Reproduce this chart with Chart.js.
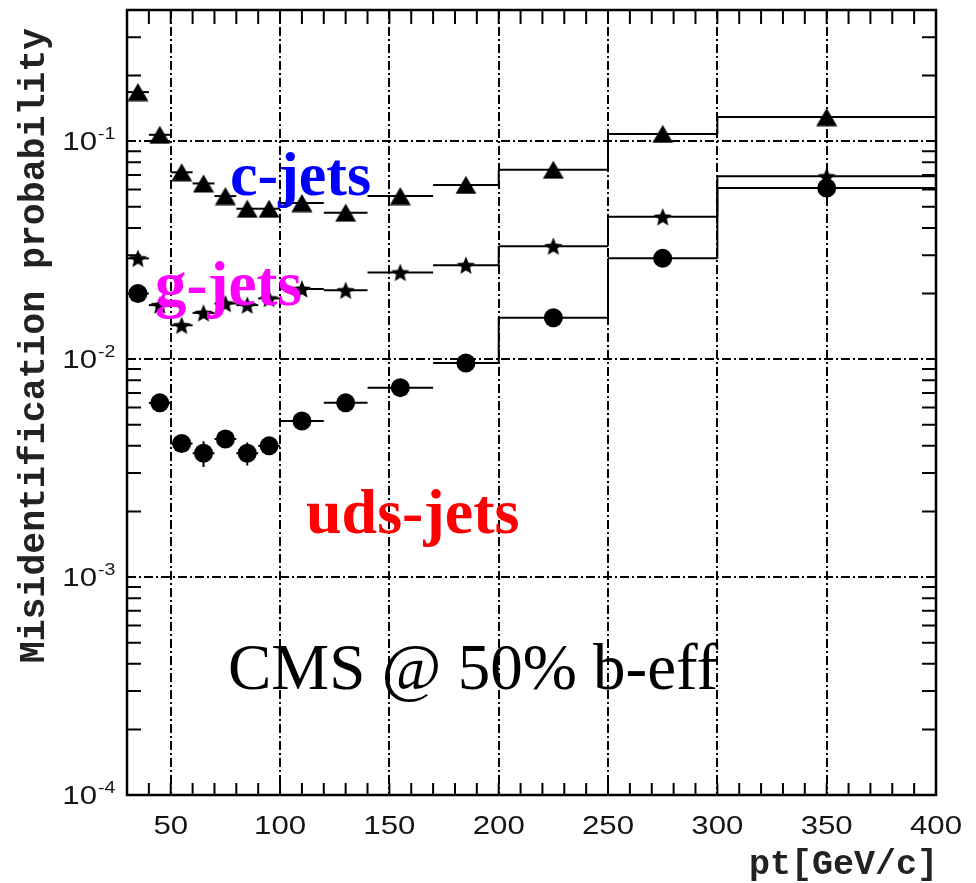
<!DOCTYPE html>
<html lang="en">
<head>
<meta charset="UTF-8">
<title>Misidentification probability vs pt</title>
<script src="https://cdn.jsdelivr.net/npm/chart.js"></script>
<style>
  html, body { margin: 0; padding: 0; background: #fff; }
  canvas { display: block; }
</style>
</head>
<body>
<canvas id="mistagChart" width="976" height="883"></canvas>
<script>
// pt bins (GeV/c)
const binLow    = [30, 40, 50, 60, 70, 80, 90, 100, 120, 140, 170, 200, 250, 300];
const binHigh   = [40, 50, 60, 70, 80, 90, 100, 120, 140, 170, 200, 250, 300, 400];
const binCenter = [35, 45, 55, 65, 75, 85, 95, 110, 130, 155, 185, 225, 275, 350];

// misidentification probability in each bin
const cJets   = [0.168, 0.107, 0.072, 0.064, 0.056, 0.049, 0.049, 0.052, 0.047, 0.056, 0.063, 0.074, 0.108, 0.129];
const gJets   = [0.029, 0.0177, 0.0143, 0.0163, 0.018, 0.0177, 0.019, 0.021, 0.0207, 0.025, 0.027, 0.033, 0.045, 0.069];
const udsJets = [0.020, 0.0063, 0.0041, 0.0037, 0.0043, 0.0037, 0.0040, 0.0052, 0.0063, 0.0074, 0.0096, 0.0155, 0.029, 0.061];
const udsErr  = [0, 0, 0.0003, 0.0005, 0.0003, 0.00045, 0.0003, 0, 0, 0, 0, 0, 0, 0];

// bin edges where the histogram line steps from one bin to the next
const stepEdges = [200, 250, 300];

// axis labels
const xTickLabels = [50, 100, 150, 200, 250, 300, 350, 400];
const xGrid = [50, 100, 150, 200, 250, 300, 350];
const yDecades = [-4, -3, -2, -1];

// marker shapes (ROOT style filled triangle and star)
function makeTriangle() {
  const c = document.createElement('canvas');
  c.width = 22; c.height = 19;
  const g = c.getContext('2d');
  g.fillStyle = '#000';
  g.beginPath();
  g.moveTo(11, 0.5); g.lineTo(21.5, 18.5); g.lineTo(0.5, 18.5);
  g.closePath(); g.fill();
  return c;
}
function makeStar() {
  const c = document.createElement('canvas');
  c.width = 20; c.height = 20;
  const g = c.getContext('2d');
  g.fillStyle = '#000';
  g.beginPath();
  for (let i = 0; i < 10; i++) {
    const r = i % 2 === 0 ? 9.6 : 4.3;
    const a = -Math.PI / 2 + i * Math.PI / 5;
    const px = 10 + r * Math.cos(a), py = 10.9 + r * Math.sin(a);
    if (i === 0) g.moveTo(px, py); else g.lineTo(px, py);
  }
  g.closePath(); g.fill();
  return c;
}

function points(vals) {
  return binCenter.map((x, i) => ({ x: x, y: vals[i] }));
}

const series = [
  { vals: cJets, err: null },
  { vals: gJets, err: null },
  { vals: udsJets, err: udsErr }
];

// text drawn a bit wider than the font's natural width
function wideText(ctx, txt, x, y, sx) {
  ctx.save();
  ctx.translate(x, y);
  ctx.scale(sx, 1);
  ctx.fillText(txt, 0, 0);
  ctx.restore();
}

const rootStyle = {
  id: 'rootStyle',
  beforeDatasetsDraw(chart) {
    const ctx = chart.ctx, xs = chart.scales.x, ys = chart.scales.y;
    ctx.save();
    ctx.strokeStyle = '#000';
    ctx.lineWidth = 2;
    series.forEach(s => {
      s.vals.forEach((v, i) => {
        const y = ys.getPixelForValue(v);
        ctx.beginPath();
        ctx.moveTo(xs.getPixelForValue(binLow[i]), y);
        ctx.lineTo(xs.getPixelForValue(binHigh[i]), y);
        ctx.stroke();
        if (s.err && s.err[i] > 0) {
          const x = xs.getPixelForValue(binCenter[i]);
          ctx.beginPath();
          ctx.moveTo(x, ys.getPixelForValue(v - s.err[i]));
          ctx.lineTo(x, ys.getPixelForValue(v + s.err[i]));
          ctx.stroke();
        }
      });
      stepEdges.forEach(e => {
        const a = binHigh.indexOf(e), b = binLow.indexOf(e);
        const x = xs.getPixelForValue(e);
        ctx.beginPath();
        ctx.moveTo(x, ys.getPixelForValue(s.vals[a]));
        ctx.lineTo(x, ys.getPixelForValue(s.vals[b]));
        ctx.stroke();
      });
    });
    ctx.restore();
  },
  afterDatasetsDraw(chart) {
    const ctx = chart.ctx, xs = chart.scales.x, ys = chart.scales.y;
    const a = chart.chartArea;
    ctx.save();
    ctx.strokeStyle = '#000';

    // minor tick marks on all four sides
    ctx.lineWidth = 2;
    for (let v = 40; v < 400; v += 10) {
      const x = xs.getPixelForValue(v);
      ctx.beginPath();
      ctx.moveTo(x, a.bottom); ctx.lineTo(x, a.bottom - 12);
      ctx.moveTo(x, a.top); ctx.lineTo(x, a.top + 14);
      ctx.stroke();
    }
    for (let d = -4; d <= -1; d++) {
      for (let k = 2; k <= 9; k++) {
        const v = k * Math.pow(10, d);
        if (v > 0.4) continue;
        const y = ys.getPixelForValue(v);
        ctx.beginPath();
        ctx.moveTo(a.left, y); ctx.lineTo(a.left + 14, y);
        ctx.moveTo(a.right, y); ctx.lineTo(a.right - 14, y);
        ctx.stroke();
      }
    }

    // frame
    ctx.lineWidth = 2.5;
    ctx.strokeRect(a.left, a.top, a.right - a.left, a.bottom - a.top);

    // tick labels
    ctx.fillStyle = '#151515';
    ctx.font = '26px "Liberation Sans", Arial, sans-serif';
    ctx.textAlign = 'center';
    ctx.textBaseline = 'middle';
    xTickLabels.forEach(v => {
      wideText(ctx, String(v), xs.getPixelForValue(v), a.bottom + 32, 1.2);
    });
    yDecades.forEach(d => {
      const y = ys.getPixelForValue(Math.pow(10, d));
      ctx.font = '26px "Liberation Sans", Arial, sans-serif';
      ctx.textAlign = 'right';
      wideText(ctx, '10', 97, y + 2, 1.2);
      ctx.font = '17px "Liberation Sans", Arial, sans-serif';
      ctx.textAlign = 'left';
      wideText(ctx, String(d), 98, y - 7, 1.15);
    });

    // axis titles
    ctx.fillStyle = '#222';
    ctx.font = 'bold 35px "Liberation Mono", "Courier New", monospace';
    ctx.textAlign = 'right';
    ctx.textBaseline = 'alphabetic';
    ctx.fillText('pt[GeV/c]', a.right + 2, 874);
    ctx.save();
    ctx.translate(44, 28);
    ctx.rotate(-Math.PI / 2);
    ctx.font = 'bold 36.5px "Liberation Mono", "Courier New", monospace';
    ctx.fillText('Misidentification probability', 0, 0);
    ctx.restore();

    // series names and caption
    ctx.textAlign = 'left';
    ctx.font = 'bold 62px "Liberation Serif", "Times New Roman", serif';
    ctx.fillStyle = '#0000ff';
    ctx.fillText('c-jets', 230, 195);
    ctx.font = 'bold 63px "Liberation Serif", "Times New Roman", serif';
    ctx.fillStyle = '#ff00ff';
    ctx.fillText('g-jets', 155, 305);
    ctx.font = 'bold 64px "Liberation Serif", "Times New Roman", serif';
    ctx.fillStyle = '#ff0000';
    ctx.fillText('uds-jets', 306, 533);
    ctx.fillStyle = '#000';
    ctx.font = '65px "Liberation Serif", "Times New Roman", serif';
    ctx.fillText('CMS @ 50% b-eff', 228, 689);
    ctx.restore();
  }
};

const gridDash = [9, 3, 2, 3];

new Chart(document.getElementById('mistagChart').getContext('2d'), {
  type: 'scatter',
  data: {
    datasets: [
      { label: 'c-jets', data: points(cJets), pointStyle: makeTriangle(), pointRadius: 9 },
      { label: 'g-jets', data: points(gJets), pointStyle: makeStar(), pointRadius: 9 },
      { label: 'uds-jets', data: points(udsJets), pointStyle: 'circle', pointRadius: 9.5,
        backgroundColor: '#000', borderWidth: 0 }
    ]
  },
  options: {
    responsive: false,
    animation: false,
    layout: { padding: { left: 127, right: 40, top: 8, bottom: 88 } },
    plugins: { legend: { display: false }, tooltip: { enabled: false } },
    scales: {
      x: {
        type: 'linear', min: 30, max: 400,
        afterBuildTicks: s => { s.ticks = xGrid.map(v => ({ value: v })); },
        ticks: { display: false },
        grid: { color: '#000', lineWidth: 2, drawTicks: false, borderDash: gridDash },
        border: { display: false, dash: gridDash }
      },
      y: {
        type: 'logarithmic', min: 1e-4, max: 0.4,
        afterBuildTicks: s => { s.ticks = [1e-3, 1e-2, 1e-1].map(v => ({ value: v })); },
        ticks: { display: false },
        grid: { color: '#000', lineWidth: 2, drawTicks: false, borderDash: gridDash },
        border: { display: false, dash: gridDash }
      }
    }
  },
  plugins: [rootStyle]
});
</script>
</body>
</html>
